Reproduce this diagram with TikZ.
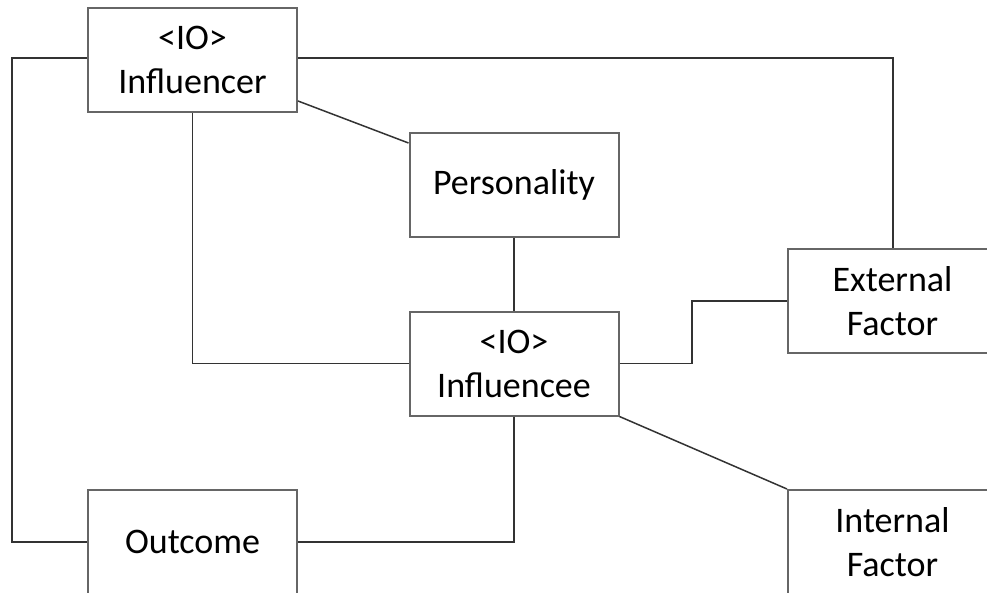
\documentclass[tikz,border=0pt]{standalone}
\usepackage{fontspec}
\setmainfont{Carlito}
\tikzset{
  box/.style={draw=black!60, line width=2pt, fill=white, minimum width=209pt,
    minimum height=104pt, align=center, inner sep=0pt,
    font=\fontsize{36}{44}\selectfont},
  link/.style={draw=black!80, line width=1.5pt}
}
\begin{document}
\begin{tikzpicture}[x=1pt,y=-1pt]
  \useasboundingbox (0,0) rectangle (987,592);
  \coordinate (lt) at (12,58);
  \coordinate (lb) at (12,542);
  \coordinate (rt) at (893,58);
  \coordinate (mb) at (514,542);
  \node[box] (infl) at (192.5,60) {<IO>\\Influencer};
  \node[box] (pers) at (514,185) {Personality};
  \node[box] (infe) at (514,363.5) {<IO>\\Influencee};
  \node[box] (ext)  at (892.5,301) {External\\Factor};
  \node[box] (outc) at (192.5,542) {Outcome};
  \node[box] (intl) at (892.5,542) {Internal\\Factor};
  \draw[link] (infl.west |- lt) -- (lt) -- (lb) -- (outc.west);
  \draw[link] (infl.east |- rt) -- (rt) -- (rt |- ext.north);
  \draw[link] ([yshift=12pt]infl.south east) -- ([yshift=-11pt]pers.north west);
  \draw[link] (infl.south) -- (infl.south |- infe.west) -- (infe.west);
  \draw[link] (pers.south) -- (infe.north);
  \draw[link] (infe.east) -- (692,363.5) -- (692,301) -- (ext.west);
  \draw[link] (infe.south east) -- (intl.north west);
  \draw[link] (infe.south) -- (mb) -- (outc.east);
\end{tikzpicture}
\end{document}
